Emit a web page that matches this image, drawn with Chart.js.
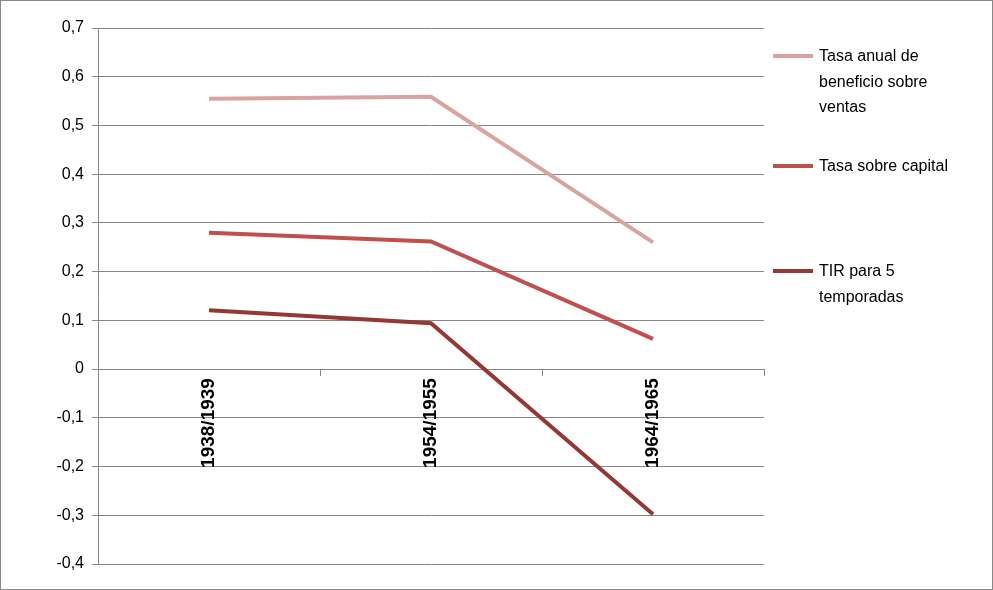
<!DOCTYPE html>
<html>
<head>
<meta charset="utf-8">
<script src="https://cdn.jsdelivr.net/npm/chart.js@4.4.0/dist/chart.umd.min.js"></script>
<style>
  body { margin: 0; background: #fff; }
  #wrap { position: relative; width: 991px; height: 588px; border: 1px solid #888; }
  .leg { position: absolute; left: 772px; font: 16px "Liberation Sans", Arial, sans-serif; color: #000; line-height: 25.5px; }
  .leg span.sw { position: absolute; left: 0; top: 11px; width: 40px; height: 4px; }
  .leg div { margin-left: 46px; width: 170px; }
</style>
</head>
<body>
<div id="wrap">
  <canvas id="c" width="991" height="588"></canvas>
  <div id="legend"></div>
</div>
<script>
// data
const categories = ['1938/1939', '1954/1955', '1964/1965'];
const seriesNames = ['Tasa anual de beneficio sobre ventas', 'Tasa sobre capital', 'TIR para 5 temporadas'];
const ventas = [0.555, 0.559, 0.26];
const capital = [0.28, 0.262, 0.062];
const tir = [0.121, 0.094, -0.298];
const colors = ['#D9A3A1', '#C0504D', '#953735'];

// legend on the right
const legendTops = [42, 152, 257];
const legendHtml = ['Tasa anual de<br>beneficio sobre<br>ventas', 'Tasa sobre capital', 'TIR para 5<br>temporadas'];
const legendBox = document.getElementById('legend');
legendHtml.forEach((t, i) => {
    legendBox.insertAdjacentHTML('beforeend',
        `<div class="leg" style="top:${legendTops[i]}px"><span class="sw" style="background:${colors[i]}"></span><div>${t}</div></div>`);
});

const values = [ventas, capital, tir];
new Chart(document.getElementById('c'), {
    type: 'line',
    data: {
        labels: categories,
        datasets: values.map((v, i) => ({
            label: seriesNames[i],
            data: v,
            borderColor: colors[i],
            borderWidth: 4,
            pointRadius: 0,
            tension: 0,
            fill: false
        }))
    },
    options: {
        responsive: false,
        animation: false,
        layout: { padding: { top: 27, right: 228, bottom: 25, left: 10 } },
        plugins: { legend: { display: false }, tooltip: { enabled: false } },
        scales: {
            x: {
                position: { y: 0 },
                offset: true,
                border: { color: '#868686' },
                grid: { offset: true, drawOnChartArea: false, tickLength: 6, color: '#868686' },
                ticks: {
                    minRotation: 90, maxRotation: 90, color: '#000',
                    font: { family: 'Liberation Sans', size: 19, weight: 'bold' }
                }
            },
            y: {
                min: -0.4, max: 0.7,
                border: { color: '#868686' },
                grid: { color: '#868686', tickLength: 6 },
                ticks: {
                    stepSize: 0.1, color: '#000', padding: 8,
                    font: { family: 'Liberation Sans', size: 16 },
                    callback: v => (Math.round(v * 10) / 10).toString().replace('.', ',')
                },
                afterFit: s => { s.width = 87; }
            }
        }
    }
});
</script>
</body>
</html>
